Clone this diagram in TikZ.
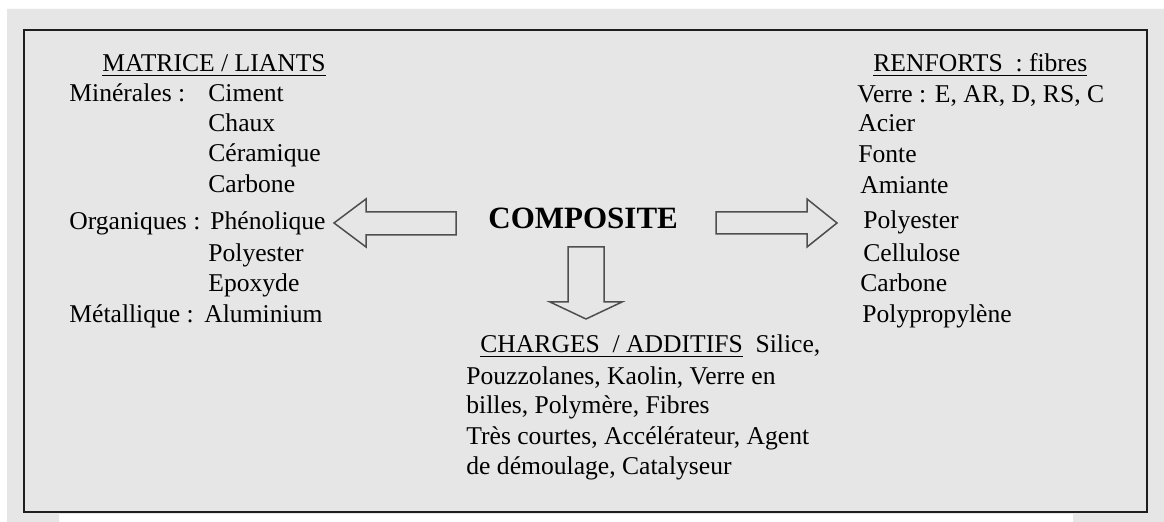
\documentclass[tikz,border=0pt]{standalone}
\usepackage{fontspec}
\setmainfont{Liberation Serif}
\usetikzlibrary{positioning}
\definecolor{bggray}{HTML}{E6E6E6}
\definecolor{framegray}{HTML}{1E1E1E}
\definecolor{arrowgray}{HTML}{4F4F4F}
\begin{document}
\begin{tikzpicture}[x=0.5pt,y=-0.5pt,
 item/.style={anchor=base west,inner sep=0pt,font=\fontsize{12.8}{15}\selectfont},
 bigtitle/.style={anchor=base west,inner sep=0pt,font=\fontsize{15.5}{18}\selectfont\bfseries},
 blockarrow/.style={draw=arrowgray,fill=bggray,line width=0.75pt,line join=miter}]
\useasboundingbox (0,0) rectangle (1164,522);
\fill[white] (0,0) rectangle (1164,522);
\fill[bggray] (7,9) -- (1164,9) -- (1164,522) -- (1073,522) -- (1073,514) -- (59,514) -- (59,522) -- (7,522) -- cycle;
\draw[framegray,line width=1.1pt] (24,30) rectangle (1147,512);
\node[item] (matrice) at (102,72) {\underline{MATRICE / LIANTS}};
\node[item] (minerales) at (69,102) {Minérales :};
\node[item] (organiques) at (69,230) {Organiques :};
\node[item] (metallique) at (69,323) {Métallique :};
\foreach \txt/\x/\y [count=\i] in {Ciment/208/102,Chaux/208/132,Céramique/208/162,Carbone/208/193,Phénolique/210/230,Polyester/208/262,Epoxyde/208/292,Aluminium/204/323}
 \node[item] (liant-\i) at (\x,\y) {\txt};
\node[item] (renforts) at (873,72) {\underline{RENFORTS\ \ : fibres}};
\node[item] (verre) at (857,103) {Verre : E, AR, D, RS, C};
\foreach \txt/\x/\y [count=\i] in {Acier/858/132,Fonte/858/163,Amiante/860/194,Polyester/863/229,Cellulose/863/262,Carbone/860/292,Polypropylène/862/323}
 \node[item] (fibre-\i) at (\x,\y) {\txt};
\node[bigtitle] (composite) at (488,229) {COMPOSITE};
\node[item] (charges) at (480,353) {\underline{CHARGES\ \ / ADDITIFS}\ \ Silice,};
\node[item] (charge-1) at (466,385) {Pouzzolanes, Kaolin, Verre en};
\node[item] (charge-2) at (466,414) {billes, Polymère, Fibres};
\node[item] (charge-3) at (466,445) {Très courtes, Accélérateur, Agent};
\node[item] (charge-4) at (466,475) {de démoulage, Catalyseur};
\draw[blockarrow] (456,212) -- (366,212) -- (366,199) -- (334,223) -- (366,247) -- (366,235) -- (456,235) -- cycle;
\draw[blockarrow] (716,212) -- (807,212) -- (807,199) -- (837,223) -- (807,247) -- (807,234) -- (716,234) -- cycle;
\draw[blockarrow] (568,247) -- (604,247) -- (604,302) -- (622,302) -- (586,319) -- (550,302) -- (568,302) -- cycle;
\end{tikzpicture}
\end{document}
